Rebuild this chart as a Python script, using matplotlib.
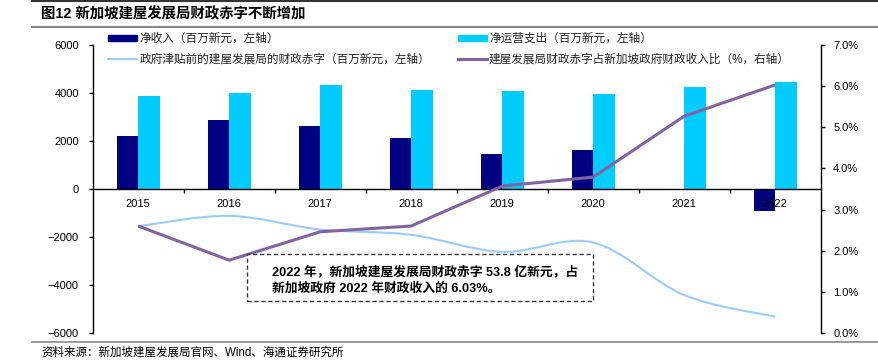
import matplotlib
matplotlib.use('Agg')
import matplotlib.pyplot as plt
import numpy as np
from matplotlib.path import Path
from matplotlib.patches import PathPatch, Rectangle
from matplotlib.lines import Line2D
from matplotlib.ticker import FuncFormatter, FixedLocator

plt.rcParams['font.family'] = ['Liberation Sans', 'Noto Sans CJK SC']

years = ['2015', '2016', '2017', '2018', '2019', '2020', '2021', '2022']
net_income = [2220, 2860, 2620, 2140, 1440, 1610, -50, -915]
net_opex = [3890, 4020, 4350, 4110, 4070, 3940, 4230, 4440]
deficit_pre = [-1550, -1120, -1690, -1910, -2620, -2230, -4420, -5320]
ratio_pct = [2.60, 1.77, 2.46, 2.60, 3.57, 3.79, 5.27, 6.03]

lbl_income = '净收入（百万新元，左轴）'
lbl_opex = '净运营支出（百万新元，左轴）'
lbl_def = '政府津贴前的建屋发展局的财政赤字（百万新元，左轴）'
lbl_ratio = '建屋发展局财政赤字占新加坡政府财政收入比（%，右轴）'

C_NAVY = '#000080'
C_CYAN = '#00CCFF'
C_LBLUE = '#99CCFF'
C_PURPLE = '#8064A2'

W, H = 879, 363
fig = plt.figure(figsize=(W / 100, H / 100), dpi=100)
L, R, B, T = 92.7, 820.7, 333, 45
ax = fig.add_axes([L / W, 1 - B / H, (R - L) / W, (B - T) / H])
ax2 = ax.twinx()

x = np.arange(len(years))
bw = 0.236
ax.bar(x - bw / 2, net_income, bw, color=C_NAVY, zorder=1)
ax.bar(x + bw / 2, net_opex, bw, color=C_CYAN, zorder=1)

# smooth curve (Excel-like smoothing) through the deficit data points
pts = np.column_stack([x, deficit_pre]).astype(float)
n = len(pts)
verts = [pts[0]]
codes = [Path.MOVETO]
for i in range(n - 1):
    p_prev = pts[max(i - 1, 0)]
    p_n2 = pts[min(i + 2, n - 1)]
    c1 = pts[i] + (pts[i + 1] - p_prev) / 6.0
    c2 = pts[i + 1] - (p_n2 - pts[i]) / 6.0
    verts += [c1, c2, pts[i + 1]]
    codes += [Path.CURVE4] * 3
ax.add_patch(PathPatch(Path(verts, codes), fc='none', ec=C_LBLUE, lw=1.5, zorder=3))

ax.set_xlim(-0.5, len(years) - 0.5)
ax.set_ylim(-6000, 6000)
ax.set_yticks(np.arange(-6000, 6001, 2000))
ax.spines['top'].set_visible(False)
ax.spines['right'].set_visible(False)
ax.spines['bottom'].set_position(('data', 0))
ax.spines['bottom'].set_linewidth(1.0)
ax.spines['left'].set_linewidth(1.0)
ax.xaxis.set_major_locator(FixedLocator(np.arange(0.5, len(years) - 1, 1.0)))
ax.xaxis.set_major_formatter(FuncFormatter(lambda v, p: ''))
ax.set_xticks(x, minor=True)
ax.set_xticklabels(years, minor=True)
ax.tick_params(axis='x', which='major', direction='out', length=3, width=1)
ax.tick_params(axis='x', which='minor', length=0, pad=7, labelsize=8)
ax.tick_params(axis='y', direction='out', length=3, width=1, pad=7, labelsize=8)

ax2.plot(x, ratio_pct, color=C_PURPLE, lw=2.2, zorder=4, solid_capstyle='butt')
ax2.set_ylim(0, 7)
ax2.set_yticks(np.arange(0, 7.01, 1))
ax2.yaxis.set_major_formatter(FuncFormatter(lambda v, p: f'{v:.1f}%'))
ax2.spines['top'].set_visible(False)
ax2.spines['left'].set_visible(False)
ax2.spines['bottom'].set_visible(False)
ax2.spines['right'].set_linewidth(1.0)
ax2.tick_params(axis='y', direction='out', length=3, width=1, pad=6, labelsize=8)

# legend
handles = [
    Rectangle((0, 0), 1, 1, color=C_NAVY),
    Line2D([], [], color=C_LBLUE, lw=1.5),
    Rectangle((0, 0), 1, 1, color=C_CYAN),
    Line2D([], [], color=C_PURPLE, lw=2.2),
]
labels = [lbl_income, lbl_def, lbl_opex, lbl_ratio]
leg = fig.legend(handles, labels, ncol=2, loc='upper left',
                 bbox_to_anchor=(108 / W, 1 - 33 / H), frameon=False,
                 fontsize=8.4, handlelength=2.5, handleheight=0.5,
                 handletextpad=0.2, columnspacing=2.35, labelspacing=0.72,
                 borderpad=0, borderaxespad=0)
for t in leg.get_texts():
    t.set_color('#222222')

# annotation box
fig.patches.append(Rectangle((247 / W, 1 - 301 / H), (593 - 247) / W, (301 - 254) / H,
                             transform=fig.transFigure, fc='white', ec='#333333',
                             lw=1.0, ls=(0, (3, 2)), zorder=5))
fig.text(272 / W, 1 - 271.5 / H, '2022 年，新加坡建屋发展局财政赤字 53.8 亿新元，占',
         fontsize=9.2, fontweight='bold', va='center', ha='left', zorder=6)
fig.text(272 / W, 1 - 288 / H, '新加坡政府 2022 年财政收入的 6.03%。',
         fontsize=9.2, fontweight='bold', va='center', ha='left', zorder=6)

# header / footer
fig.add_artist(Line2D([32 / W, 1], [1 - 1 / H, 1 - 1 / H], color='#333333', lw=1.5,
                      transform=fig.transFigure))
fig.add_artist(Line2D([32 / W, 1], [1 - 27 / H, 1 - 27 / H], color='#888888', lw=1.5,
                      transform=fig.transFigure))
fig.add_artist(Line2D([32 / W, 1], [1 - 342 / H, 1 - 342 / H], color='#888888', lw=1.2,
                      transform=fig.transFigure))
fig.text(41 / W, 1 - 14 / H, '图12 新加坡建屋发展局财政赤字不断增加', fontsize=10.4,
         fontweight='bold', va='center', ha='left')
fig.text(41 / W, 1 - 353 / H, '资料来源：新加坡建屋发展局官网、Wind、海通证券研究所',
         fontsize=8.3, va='center', ha='left')

fig.savefig('out.png', dpi=100)
